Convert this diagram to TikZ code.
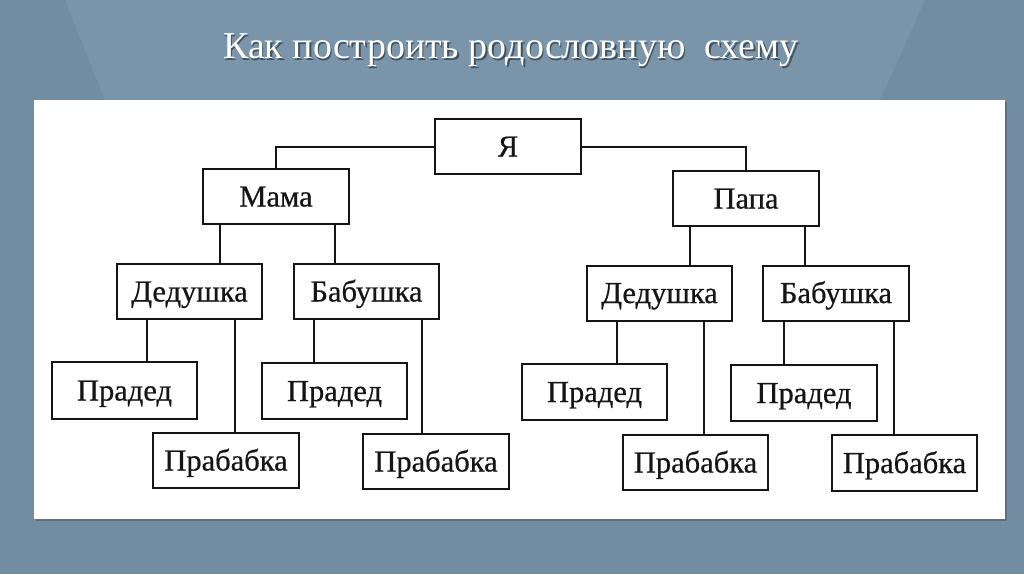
\documentclass[tikz,border=0pt]{standalone}
\usepackage{fontspec}
\setmainfont{Liberation Serif}
\newfontfamily\boxfont[FakeBold=0.6]{Liberation Serif}
\usetikzlibrary{calc}
\definecolor{bgblue}{HTML}{728DA1}
\definecolor{bglight}{HTML}{7A95A9}
\definecolor{inkc}{HTML}{151515}
\tikzset{
  person/.style={draw=inkc, line width=2pt, fill=white, minimum width=146pt,
    minimum height=55pt, inner sep=0pt, text height=20pt, text depth=0pt,
    font=\boxfont\fontsize{30.5}{31}\selectfont, text=inkc},
  link/.style={draw=inkc, line width=2pt},
  titletext/.style={font=\fontsize{38}{40}\selectfont, inner sep=0pt}
}
\begin{document}
\begin{tikzpicture}[x=1pt,y=-1pt]
\useasboundingbox (0,0) rectangle (1024,574);
\fill[bgblue] (0,0) rectangle (1024,574);
\fill[bglight] (65,0) -- (105,100) -- (880,100) -- (925,0) -- cycle;
\fill[black, opacity=0.2] (36,102) rectangle (1007,521);
\fill[white] (34,100) rectangle (1005,519);
% title
\node[titletext, text=black, opacity=0.45] (titleshadow) at (512.5,52) {Как построить родословную\ \ схему};
\node[titletext, text=white] (title) at (511,50.5) {Как построить родословную\ \ схему};
% people
\node[person] (ya) at (508,146.5) {Я};
\node[person] (mama) at (276,196.5) {Мама};
\node[person] (papa) at (746,198.5) {Папа};
\node[person, minimum width=145pt] (dedL) at (189.5,291.5) {Дедушка};
\node[person, minimum width=145pt] (babL) at (366.5,291.5) {Бабушка};
\node[person, minimum width=145pt] (dedR) at (659.5,293) {Дедушка};
\node[person] (babR) at (836,293) {Бабушка};
\node[person, minimum width=145pt, minimum height=57pt] (pdL1) at (124.5,390.5) {Прадед};
\node[person, minimum height=55pt] (pbL1) at (226,460.5) {Прабабка};
\node[person, minimum width=145pt, minimum height=56pt] (pdL2) at (334.5,391) {Прадед};
\node[person] (pbL2) at (436,461.5) {Прабабка};
\node[person, minimum width=145pt, minimum height=56pt] (pdR1) at (594.5,392) {Прадед};
\node[person, minimum width=145pt] (pbR1) at (695.5,462.5) {Прабабка};
\node[person, minimum height=56pt] (pdR2) at (804,393) {Прадед};
\node[person, minimum width=145pt, minimum height=56pt] (pbR2) at (904.5,463) {Прабабка};
% connectors
\draw[link] (ya.west) -| (mama.north);
\draw[link] (ya.east) -| (papa.north);
\draw[link] ($(mama.south west)!0.12!(mama.south east)$) coordinate (m1) -- (m1 |- dedL.north);
\draw[link] ($(mama.south west)!0.9!(mama.south east)$) coordinate (m2) -- (m2 |- babL.north);
\draw[link] ($(papa.south west)!0.12!(papa.south east)$) coordinate (p1) -- (p1 |- dedR.north);
\draw[link] ($(papa.south west)!0.9!(papa.south east)$) coordinate (p2) -- (p2 |- babR.north);
\draw[link] ($(dedL.south west)!0.21!(dedL.south east)$) coordinate (a1) -- (a1 |- pdL1.north);
\draw[link] ($(dedL.south west)!0.81!(dedL.south east)$) coordinate (a2) -- (a2 |- pbL1.north);
\draw[link] ($(babL.south west)!0.145!(babL.south east)$) coordinate (b1) -- (b1 |- pdL2.north);
\draw[link] ($(babL.south west)!0.88!(babL.south east)$) coordinate (b2) -- (b2 |- pbL2.north);
\draw[link] ($(dedR.south west)!0.21!(dedR.south east)$) coordinate (c1) -- (c1 |- pdR1.north);
\draw[link] ($(dedR.south west)!0.8!(dedR.south east)$) coordinate (c2) -- (c2 |- pbR1.north);
\draw[link] ($(babR.south west)!0.15!(babR.south east)$) coordinate (d1) -- (d1 |- pdR2.north);
\draw[link] ($(babR.south west)!0.89!(babR.south east)$) coordinate (d2) -- (d2 |- pbR2.north);
\end{tikzpicture}
\end{document}
